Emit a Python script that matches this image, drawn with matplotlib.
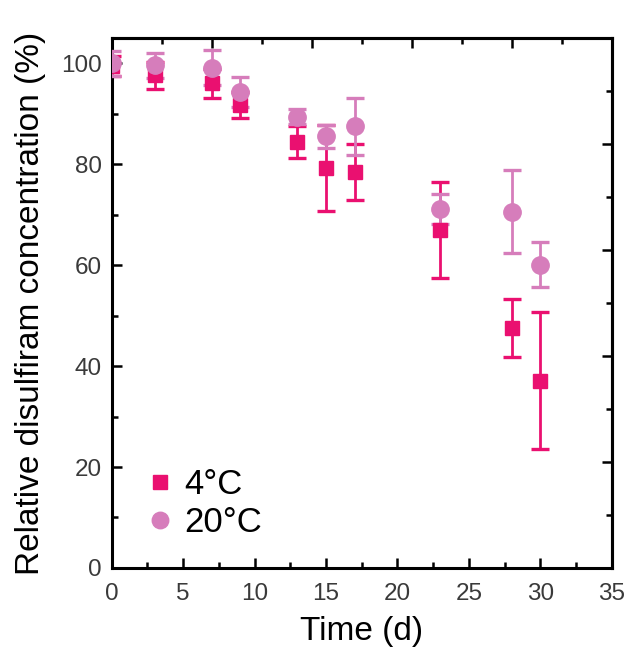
import matplotlib
matplotlib.use("Agg")
import matplotlib.pyplot as plt
from matplotlib.ticker import MultipleLocator, FixedLocator

# --- data -----------------------------------------------------------------------------------
days_4c = [0, 3, 7, 9, 13, 15, 17, 23, 28, 30]
conc_4c = [99.5, 97.6, 96.0, 91.7, 84.4, 79.3, 78.4, 67.0, 47.5, 37.1]
err_4c = [2.0, 2.7, 2.8, 2.5, 3.2, 8.5, 5.5, 9.5, 5.8, 13.6]

days_20c = [0, 3, 7, 9, 13, 15, 17, 23, 28, 30]
conc_20c = [100.0, 99.6, 99.1, 94.3, 89.4, 85.5, 87.5, 71.1, 70.6, 60.1]
err_20c = [2.5, 2.5, 3.5, 3.0, 1.5, 2.2, 5.6, 3.0, 8.2, 4.4]

COL_4C = "#EA1070"
COL_20C = "#D67DBB"

plt.rcParams.update({
    "font.family": ["Liberation Sans", "DejaVu Sans"],
    "axes.linewidth": 2.2,
})

fig = plt.figure(figsize=(6.3, 6.48), dpi=100)
ax = fig.add_axes([0.1773, 0.1235, 0.7937, 0.8179])

# error bars first, markers on top
ax.errorbar(days_4c, conc_4c, yerr=err_4c, fmt="none", ecolor=COL_4C,
            elinewidth=2.0, capsize=6.5, capthick=2.4, zorder=2)
ax.errorbar(days_20c, conc_20c, yerr=err_20c, fmt="none", ecolor=COL_20C,
            elinewidth=2.0, capsize=6.5, capthick=2.4, zorder=3)
ax.plot(days_4c, conc_4c, ls="none", marker="s", ms=10.5, color=COL_4C,
        mec=COL_4C, label="4\u00b0C", zorder=4)
ax.plot(days_20c, conc_20c, ls="none", marker="o", ms=12.5, color=COL_20C,
        mec=COL_20C, label="20\u00b0C", zorder=5)

ax.set_xlim(0, 35)
ax.set_ylim(0, 105)
ax.xaxis.set_major_locator(MultipleLocator(5))
ax.xaxis.set_minor_locator(MultipleLocator(2.5))
ax.yaxis.set_major_locator(MultipleLocator(20))
ax.yaxis.set_minor_locator(MultipleLocator(10))
ax.tick_params(which="major", direction="in", length=7.5, width=1.8,
               labelsize=17.5, labelcolor="#3a3a3a")
ax.tick_params(axis="x", which="major", pad=11)
ax.tick_params(axis="y", which="major", pad=7)
ax.tick_params(which="minor", direction="in", length=4.5, width=1.8)

# opposite axes carry their own (Origin-style) tick spacing
top = ax.secondary_xaxis("top")
top.xaxis.set_major_locator(FixedLocator([7, 14, 21, 28]))
top.xaxis.set_minor_locator(FixedLocator([3.5, 10.5, 17.5, 24.5, 31.5]))
top.tick_params(which="major", direction="in", length=7.5, width=1.8, labeltop=False)
top.tick_params(which="minor", direction="in", length=4.5, width=1.8)
top.spines["top"].set_linewidth(2.2)

right = ax.secondary_yaxis("right")
right.yaxis.set_major_locator(FixedLocator([21, 42, 63, 84]))
right.yaxis.set_minor_locator(FixedLocator([10.5, 31.5, 52.5, 73.5, 94.5]))
right.tick_params(which="major", direction="in", length=7.5, width=1.8, labelright=False)
right.tick_params(which="minor", direction="in", length=4.5, width=1.8)
right.spines["right"].set_linewidth(2.2)

ax.set_xlabel("Time (d)", fontsize=24, labelpad=8)
ax.set_ylabel("Relative disulfiram concentration (%)", fontsize=24, labelpad=11)

ax.legend(loc="lower left", bbox_to_anchor=(0.03, 0.015), frameon=False,
          fontsize=25, handlelength=0.7, handletextpad=0.35, labelspacing=0.15,
          borderaxespad=0.2, markerscale=0.95)

fig.savefig("out.png", dpi=100)
